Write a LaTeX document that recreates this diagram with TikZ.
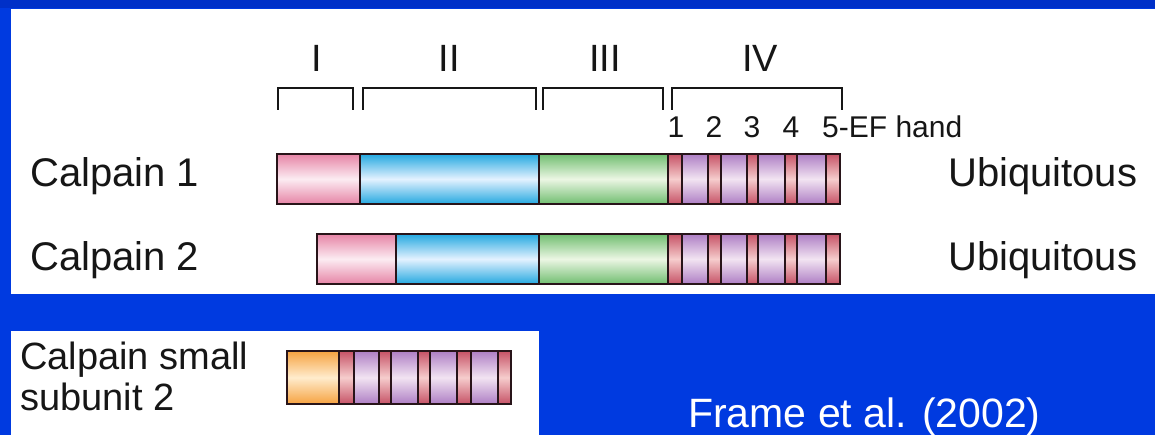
\documentclass[tikz,border=0pt]{standalone}
\usepackage{fontspec}
\setmainfont{Liberation Sans}
\definecolor{bg}{RGB}{0,58,224}
\definecolor{bgtop}{RGB}{0,48,200}
\definecolor{segline}{RGB}{40,20,25}
\definecolor{txt}{RGB}{22,22,22}
\definecolor{pinkc}{RGB}{230,132,166}
\definecolor{pinkm}{RGB}{252,236,242}
\definecolor{bluec}{RGB}{36,168,224}
\definecolor{bluem}{RGB}{228,242,255}
\definecolor{greenc}{RGB}{112,190,112}
\definecolor{greenm}{RGB}{236,246,228}
\definecolor{redc}{RGB}{198,82,102}
\definecolor{redm}{RGB}{246,205,205}
\definecolor{purpc}{RGB}{174,126,196}
\definecolor{purpm}{RGB}{242,228,242}
\definecolor{orangec}{RGB}{246,162,64}
\definecolor{orangem}{RGB}{255,236,205}
\tikzset{
  segbox/.style={draw=segline, line width=2.4pt},
  pinkseg/.style={segbox, top color=pinkc, bottom color=pinkc, middle color=pinkm},
  blueseg/.style={segbox, top color=bluec, bottom color=bluec, middle color=bluem},
  greenseg/.style={segbox, top color=greenc, bottom color=greenc, middle color=greenm},
  redseg/.style={segbox, top color=redc, bottom color=redc, middle color=redm},
  purpseg/.style={segbox, top color=purpc, bottom color=purpc, middle color=purpm},
  orangeseg/.style={segbox, top color=orangec, bottom color=orangec, middle color=orangem},
  barframe/.style={draw=segline, line width=2.6pt},
  brk/.style={draw=txt, line width=2.2pt},
  lbl/.style={font=\fontsize{40}{42}\selectfont, text=txt, inner sep=0pt},
  smalllbl/.style={font=\fontsize{38}{40}\selectfont, text=txt, inner sep=0pt},
  roman/.style={font=\fontsize{38}{40}\selectfont, text=txt, inner sep=0pt, anchor=base},
  efnum/.style={font=\fontsize{30}{32}\selectfont, text=txt, inner sep=0pt, anchor=base},
  cite/.style={font=\fontsize{41}{44}\selectfont, text=white, inner sep=0pt, anchor=base west}
}
\newcommand\domainfour[2]{%
  \foreach \a/\b/\s in {668/682/redseg,682/708/purpseg,708/721/redseg,721/747/purpseg,747/758/redseg,758/785/purpseg,785/797/redseg,797/826/purpseg,826/840/redseg}
    {\path[\s] (\a,#1) rectangle (\b,#2);}%
}
\begin{document}
\begin{tikzpicture}[x=1pt,y=-1pt]
\useasboundingbox (0,0) rectangle (1155,435);
% background
\fill[bg] (0,0) rectangle (1155,435);
\fill[bgtop] (0,0) rectangle (1155,8);
\fill[white] (11,9) rectangle (1155,294);
\fill[white] (11,331) rectangle (539,435);

% brackets
\draw[brk] (278,110) -- (278,88) -- (353,88) -- (353,110);
\draw[brk] (363,110) -- (363,88) -- (536,88) -- (536,110);
\draw[brk] (543,110) -- (543,88) -- (663,88) -- (663,110);
\draw[brk] (672,110) -- (672,88) -- (842,88) -- (842,110);
\node[roman] (dI) at (317,72) {I};
\node[roman] (dII) at (449,72) {II};
\node[roman] (dIII) at (605,72) {III};
\node[roman] (dIV) at (760,72) {IV};

% EF hand numbers
\node[efnum] (ef1) at (676,138) {1};
\node[efnum] (ef2) at (714,138) {2};
\node[efnum] (ef3) at (752,138) {3};
\node[efnum] (ef4) at (791,138) {4};
\node[efnum, anchor=base west] (ef5) at (822,138) {5-EF hand};

% Calpain 1
\path[pinkseg] (277,154) rectangle (360,204);
\path[blueseg] (360,154) rectangle (539,204);
\path[greenseg] (539,154) rectangle (668,204);
\domainfour{154}{204}
\draw[barframe] (277,154) rectangle (840,204);

% Calpain 2
\path[pinkseg] (317,234) rectangle (396,284);
\path[blueseg] (396,234) rectangle (539,284);
\path[greenseg] (539,234) rectangle (668,284);
\domainfour{234}{284}
\draw[barframe] (317,234) rectangle (840,284);

\node[lbl, anchor=base west] (c1) at (30,187) {Calpain 1};
\node[lbl, anchor=base west] (c2) at (30,271) {Calpain 2};
\node[lbl, anchor=base west] (u1) at (948,187) {Ubiquitous};
\node[lbl, anchor=base west] (u2) at (948,271) {Ubiquitous};

% small subunit
\path[orangeseg] (287,351) rectangle (339,404);
\foreach \a/\b/\s in {339/354/redseg,354/379/purpseg,379/391/redseg,391/418/purpseg,418/430/redseg,430/457/purpseg,457/471/redseg,471/498/purpseg,498/511/redseg}
  {\path[\s] (\a,351) rectangle (\b,404);}
\draw[barframe] (287,351) rectangle (511,404);
\node[smalllbl, anchor=base west] (s1) at (20,369) {Calpain small};
\node[smalllbl, anchor=base west] (s2) at (20,410) {subunit 2};

\node[cite] (ref) at (688,427) {Frame et al. (2002)};
\end{tikzpicture}
\end{document}
